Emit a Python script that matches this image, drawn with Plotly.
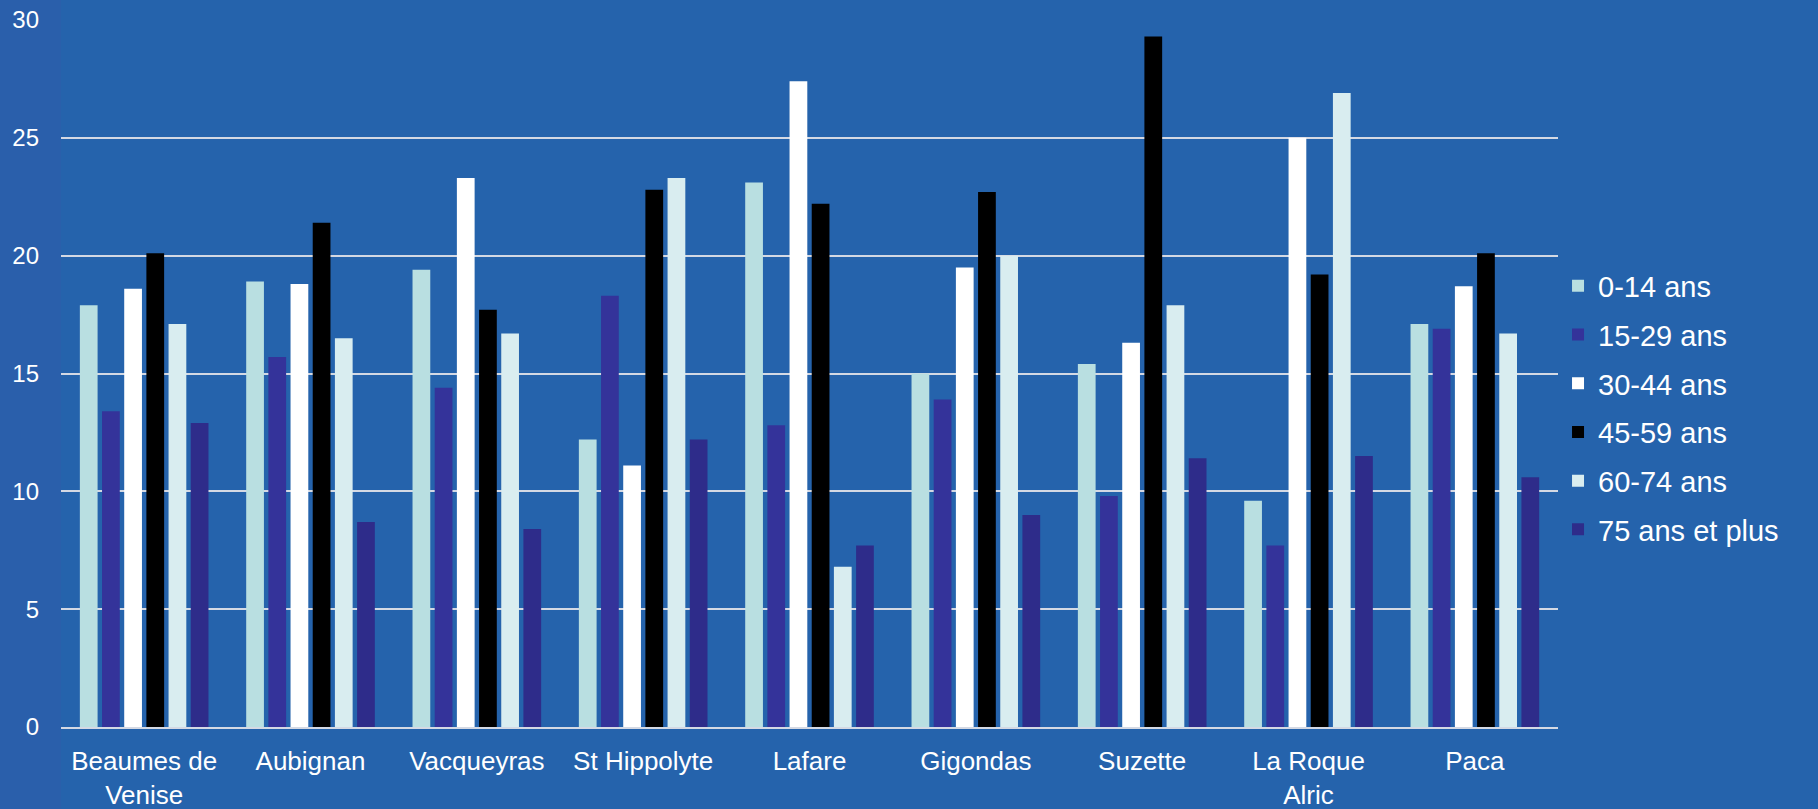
import plotly.graph_objects as go

communes = ["Beaumes de<br>Venise", "Aubignan", "Vacqueyras", "St Hippolyte", "Lafare",
            "Gigondas", "Suzette", "La Roque<br>Alric", "Paca"]

age_0_14 = [17.9, 18.9, 19.4, 12.2, 23.1, 15.0, 15.4, 9.6, 17.1]
age_15_29 = [13.4, 15.7, 14.4, 18.3, 12.8, 13.9, 9.8, 7.7, 16.9]
age_30_44 = [18.6, 18.8, 23.3, 11.1, 27.4, 19.5, 16.3, 25.0, 18.7]
age_45_59 = [20.1, 21.4, 17.7, 22.8, 22.2, 22.7, 29.3, 19.2, 20.1]
age_60_74 = [17.1, 16.5, 16.7, 23.3, 6.8, 20.0, 17.9, 26.9, 16.7]
age_75_plus = [12.9, 8.7, 8.4, 12.2, 7.7, 9.0, 11.4, 11.5, 10.6]

series_names = ["0-14 ans", "15-29 ans", "30-44 ans", "45-59 ans", "60-74 ans", "75 ans et plus"]
series_values = [age_0_14, age_15_29, age_30_44, age_45_59, age_60_74, age_75_plus]
series_colors = ["#b9dfe1", "#34339a", "#ffffff", "#000000", "#d9edf0", "#2e2c8a"]

y_ticks = [0, 5, 10, 15, 20, 25, 30]

FONT = "Liberation Sans, Arial, sans-serif"

fig = go.Figure()
for name, vals, col in zip(series_names, series_values, series_colors):
    fig.add_trace(go.Bar(
        x=communes, y=vals, name=name,
        marker=dict(color=col, line=dict(width=0)),
        legendgroup=name,
    ))

# subtle purple tint on the far left edge (textured backdrop in the original)
fig.add_shape(type="rect", xref="paper", yref="paper", x0=-0.05, x1=0.0, y0=-0.15, y1=1.05,
              fillcolor="#4a4aa8", opacity=0.15, line=dict(width=0), layer="below")

fig.update_layout(
    width=1818, height=809,
    margin=dict(l=61, r=250, t=20, b=82),
    paper_bgcolor="#2563ac",
    plot_bgcolor="rgba(0,0,0,0)",
    barmode="group",
    bargap=0.2,
    bargroupgap=0.2,
    font=dict(family=FONT, color="white"),
    legend=dict(
        xref="container", yref="container",
        x=0.857, y=0.678, xanchor="left", yanchor="top",
        font=dict(size=29, color="white", family=FONT),
        tracegroupgap=8,
        bgcolor="rgba(0,0,0,0)",
    ),
    showlegend=True,
)

fig.update_yaxes(
    range=[0, 30], tickvals=y_ticks,
    showgrid=True, gridcolor="#d4d9e4", gridwidth=2,
    zeroline=False, showline=False,
    tickfont=dict(size=24, color="white", family=FONT),
    ticklabelstandoff=21,
    automargin=False,
)
fig.update_xaxes(
    showline=True, linecolor="#d4d9e4", linewidth=2,
    tickfont=dict(size=26, color="white", family=FONT),
    ticks="", ticklabelstandoff=10,
    tickangle=0,
    automargin=False,
)

fig.write_html(
    "out.html",
    config={"displayModeBar": False},
    post_script="document.body.style.margin='0';document.body.style.overflow='hidden';",
)
